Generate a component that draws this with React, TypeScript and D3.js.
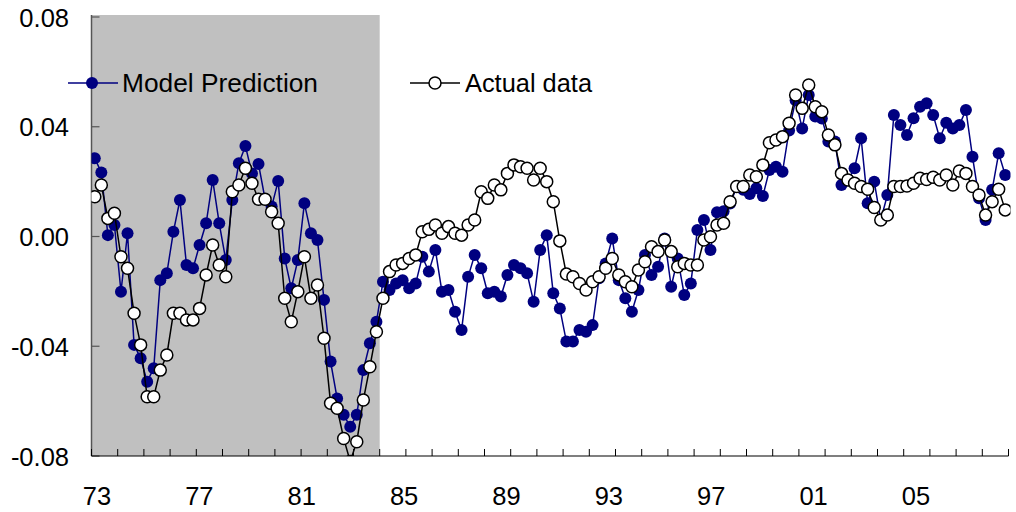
import * as d3 from 'd3';

// quarterly values, 1973Q1 .. 2007Q4
const model = [
  0.0285, 0.0233, 0.0005, 0.0042, -0.0201, 0.0012, -0.0395, -0.0444, -0.0529, -0.048,
  -0.0159, -0.0134, 0.0017, 0.0133, -0.0104, -0.0116, -0.0031, 0.0048, 0.0206, 0.0048,
  -0.0086, 0.0133, 0.0267, 0.033, 0.023, 0.0264, 0.0136, 0.0109, 0.0202, -0.008,
  -0.0189, -0.0086, 0.0121, 0.0012, -0.0013, -0.0231, -0.0456, -0.059, -0.065, -0.0693,
  -0.065, -0.0487, -0.0389, -0.0311, -0.0165, -0.0195, -0.0171, -0.0159, -0.0189, -0.0171,
  -0.0074, -0.0128, -0.0049, -0.0201, -0.0195, -0.0274, -0.0341, -0.0147, -0.0067, -0.0116,
  -0.0207, -0.0201, -0.0219, -0.014, -0.0104, -0.0116, -0.0134, -0.0238, -0.0049, 0.0005,
  -0.0207, -0.0262, -0.0383, -0.0383, -0.0341, -0.0347, -0.0323, -0.0152, -0.0098, -0.0007,
  -0.0159, -0.0225, -0.0274, -0.0195, -0.0067, -0.014, -0.011, -0.0007, -0.0183, -0.008,
  -0.0213, -0.0171, 0.0024, 0.006, -0.0049, 0.0088, 0.0092, 0.012, 0.018, 0.017,
  0.0155, 0.0176, 0.0148, 0.0242, 0.0254, 0.0236, 0.0386, 0.0497, 0.0394, 0.0516,
  0.0437, 0.043, 0.0346, 0.0346, 0.0188, 0.0205, 0.0249, 0.0358, 0.0121, 0.02,
  0.006, 0.0151, 0.0443, 0.0406, 0.037, 0.0431, 0.0473, 0.0486, 0.0443, 0.0358,
  0.0415, 0.0394, 0.0406, 0.0461, 0.0291, 0.0139, 0.006, 0.017, 0.0303, 0.0224,
];

const actual = [
  0.0145, 0.0188, 0.0066, 0.0085, -0.0074, -0.0116, -0.028, -0.0395, -0.0584, -0.0584,
  -0.0487, -0.0432, -0.028, -0.028, -0.0304, -0.0304, -0.0262, -0.014, -0.0031, -0.0104,
  -0.0147, 0.0163, 0.0188, 0.0249, 0.0194, 0.0136, 0.0136, 0.009, 0.0048, -0.0225,
  -0.0311, -0.0201, -0.0074, -0.0225, -0.0177, -0.0371, -0.0608, -0.0626, -0.0736, -0.082,
  -0.0748, -0.0596, -0.0475, -0.0347, -0.0225, -0.0128, -0.0104, -0.0098, -0.008, -0.0067,
  0.0017, 0.0026, 0.0042, 0.0012, 0.0036, 0.0012, 0.0005, 0.0042, 0.006, 0.0163,
  0.0139, 0.0188, 0.017, 0.023, 0.0261, 0.0254, 0.0249, 0.0206, 0.0249, 0.02,
  0.0127, -0.0016, -0.0137, -0.0147, -0.0171, -0.0195, -0.0165, -0.0147, -0.0116, -0.008,
  -0.014, -0.0165, -0.0183, -0.0122, -0.0092, -0.0037, -0.0055, -0.0013, -0.0055, -0.011,
  -0.0098, -0.0104, -0.0104, -0.0013, -0.0001, 0.0042, 0.0048, 0.0127, 0.0182, 0.0182,
  0.0224, 0.0218, 0.0261, 0.0342, 0.0352, 0.0364, 0.0413, 0.0516, 0.0467, 0.0552,
  0.0473, 0.0455, 0.037, 0.0334, 0.023, 0.0206, 0.0194, 0.0182, 0.0172, 0.0106,
  0.006, 0.0078, 0.0182, 0.0182, 0.0184, 0.0194, 0.0212, 0.0208, 0.0216, 0.0206,
  0.0224, 0.0188, 0.0239, 0.023, 0.0182, 0.0151, 0.0078, 0.0127, 0.0172, 0.0097,
];

const startYear = 1973;
const endYear = 2008;
const shadeEnd = 1984;
const yTicks = [0.08, 0.04, 0, -0.04, -0.08];
const yTickLabels = ['0.08', '0.04', '0.00', '-0.04', '-0.08'];
const xLabelYears = [1973, 1977, 1981, 1985, 1989, 1993, 1997, 2001, 2005];
const xLabels = ['73', '77', '81', '85', '89', '93', '97', '01', '05'];

const W = 1016;
const H = 512;
const FONT = '"Liberation Sans", Arial, sans-serif';

export default function App() {
  const x = d3.scaleLinear().domain([startYear, endYear]).range([91.5, 1008.5]);
  const y = d3.scaleLinear().domain([-0.08, 0.08]).range([456, 17]);
  // Excel spaces the category labels a little tighter than the ticks
  const xLab = d3.scaleLinear().domain([1973, 2005]).range([97, 916]);

  const qx = (i: number) => x(startYear + (i + 0.5) / 4);
  const line = d3.line<number>().x((_, i) => qx(i)).y(d => y(d));

  const years = d3.range(startYear, endYear + 1);
  const [y0, y1] = y.range();

  return (
    <div style={{ position: 'absolute', left: 0, top: 0 }}>
      <svg width={W} height={H} style={{ display: 'block', background: '#fff' }}>
        <defs>
          <clipPath id="plot">
            <rect x={x(startYear)} y={y1} width={x(endYear) - x(startYear) + 2} height={y0 - y1} />
          </clipPath>
        </defs>

        {/* shaded sample period */}
        <rect x={x(startYear)} y={y1 - 2} width={x(shadeEnd) - x(startYear)} height={y0 - y1 + 2} fill="#c0c0c0" />

        {/* axes */}
        <line x1={x(startYear)} x2={x(startYear)} y1={y1 - 2} y2={y0} stroke="#555" strokeWidth={1.5} />
        {yTicks.map(t => (
          <line key={t} x1={x(startYear)} x2={x(startYear) + 8} y1={y(t)} y2={y(t)} stroke="#555" strokeWidth={1.2} />
        ))}
        <line x1={x(startYear)} x2={x(endYear)} y1={y0} y2={y0} stroke="#000" strokeWidth={1.2} />
        {years.map(yr => (
          <line key={yr} x1={x(yr)} x2={x(yr)} y1={y0} y2={y0 - 7} stroke="#000" strokeWidth={1} />
        ))}

        {yTicks.map((t, i) => (
          <text key={t} x={69} y={y(t)} dy="0.38em" textAnchor="end" fontFamily={FONT} fontSize={25.5} fill="#000">
            {yTickLabels[i]}
          </text>
        ))}
        {xLabelYears.map((yr, i) => (
          <text key={yr} x={xLab(yr)} y={505} textAnchor="middle" fontFamily={FONT} fontSize={25.5} fill="#000">
            {xLabels[i]}
          </text>
        ))}

        <g clipPath="url(#plot)">
          <path d={line(model) || ''} fill="none" stroke="#000080" strokeWidth={1.5} />
          {model.map((v, i) => (
            <circle key={i} cx={qx(i)} cy={y(v)} r={6} fill="#000080" />
          ))}
          <path d={line(actual) || ''} fill="none" stroke="#000" strokeWidth={1.5} />
          {actual.map((v, i) => (
            <circle key={i} cx={qx(i)} cy={y(v)} r={6} fill="#fff" stroke="#000" strokeWidth={1.5} />
          ))}
        </g>

        {/* legend */}
        <g fontFamily={FONT} fontSize={26}>
          <line x1={68} x2={118} y1={83} y2={83} stroke="#000080" strokeWidth={1.5} />
          <circle cx={92} cy={83} r={6} fill="#000080" />
          <text x={122} y={83} dy="0.36em" textLength={196} lengthAdjust="spacingAndGlyphs">Model Prediction</text>
          <line x1={410} x2={460} y1={83} y2={83} stroke="#000" strokeWidth={1.5} />
          <circle cx={435} cy={83} r={6} fill="#fff" stroke="#000" strokeWidth={1.5} />
          <text x={465} y={83} dy="0.36em" textLength={127} lengthAdjust="spacingAndGlyphs">Actual data</text>
        </g>
      </svg>
    </div>
  );
}
